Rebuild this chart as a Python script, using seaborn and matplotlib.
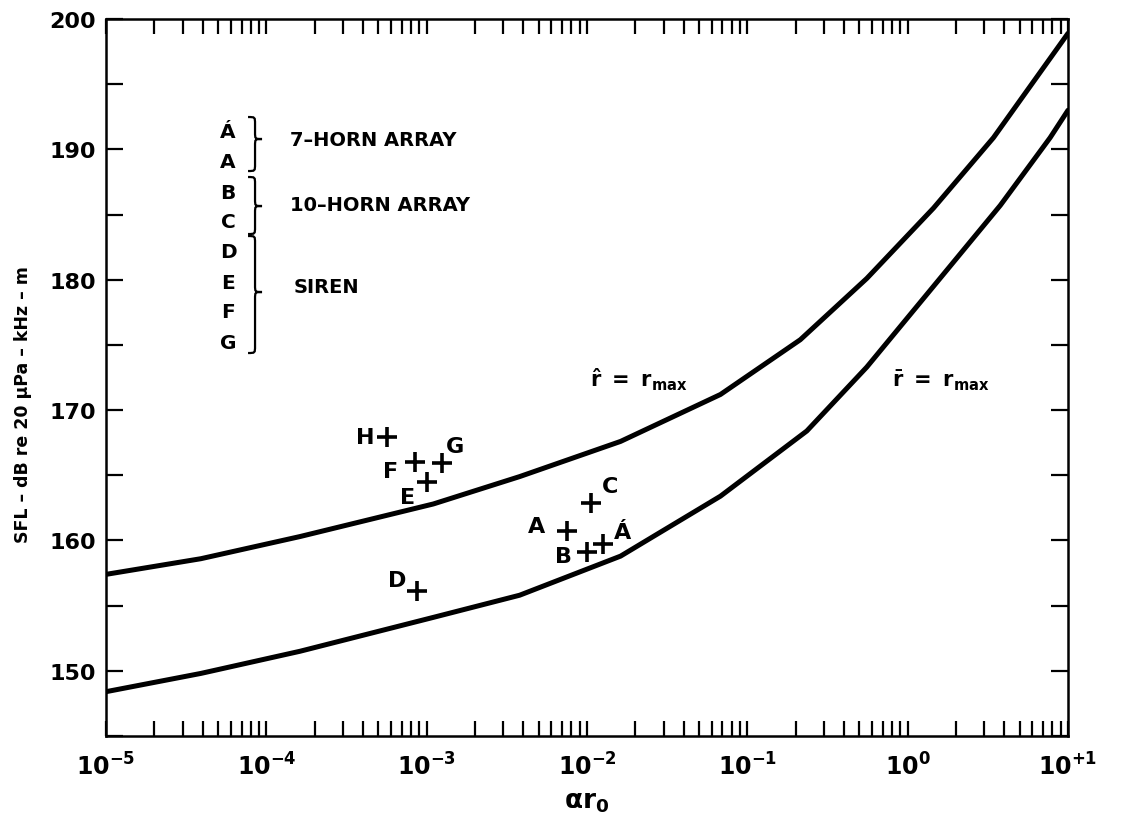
import matplotlib
matplotlib.use('Agg')
import matplotlib.pyplot as plt
from matplotlib.path import Path
from matplotlib.patches import PathPatch
from matplotlib.ticker import FixedLocator, FixedFormatter, NullLocator
import seaborn as sns

# curve  r^ = r_max
x_hat = [1.0e-5, 3.9e-5, 1.62e-4, 1.1e-3, 3.8e-3, 1.62e-2, 6.8e-2, 0.214, 0.556, 1.45, 3.43, 10.0]
y_hat = [157.4, 158.6, 160.3, 162.8, 164.9, 167.6, 171.2, 175.4, 180.1, 185.5, 190.9, 198.9]

# curve  r- = r_max
x_bar = [1.0e-5, 3.9e-5, 1.62e-4, 1.1e-3, 3.8e-3, 1.62e-2, 6.8e-2, 0.235, 0.556, 1.45, 3.78, 7.74, 10.0]
y_bar = [148.4, 149.8, 151.5, 154.1, 155.8, 158.8, 163.4, 168.4, 173.3, 179.5, 185.7, 190.9, 193.0]

# measured sources
pt_labels = ['H', 'F', 'G', 'E', 'D', 'C', 'A', 'B', 'Á']
pt_x = [5.66e-4, 8.47e-4, 1.25e-3, 1.0e-3, 8.7e-4, 1.06e-2, 7.5e-3, 1.0e-2, 1.26e-2]
pt_y = [167.9, 166.0, 165.95, 164.5, 156.1, 162.9, 160.7, 159.1, 159.7]
# label offsets (points)
pt_dx = [-16, -18, 9, -14, -14, 14, -22, -17, 14]
pt_dy = [0, -6, 12, -11, 8, 12, 4, -3, 9]

key_letters = ['Á', 'A', 'B', 'C', 'D', 'E', 'F', 'G']
group_names = ['7–HORN ARRAY', '10–HORN ARRAY', 'SIREN']

x_ticks = [1e-5, 1e-4, 1e-3, 1e-2, 1e-1, 1e0, 1e1]
x_ticklabels = ['$10^{-5}$', '$10^{-4}$', '$10^{-3}$', '$10^{-2}$', '$10^{-1}$', '$10^{0}$', '$10^{+1}$']
y_ticks = [145, 150, 155, 160, 165, 170, 175, 180, 185, 190, 195, 200]
y_ticklabels = ['', '150', '', '160', '', '170', '', '180', '', '190', '', '200']

sns.set_style('white')
plt.rcParams['font.family'] = ['DejaVu Sans']
plt.rcParams['font.weight'] = 'bold'
plt.rcParams['mathtext.fontset'] = 'dejavusans'
plt.rcParams['mathtext.default'] = 'bf'
plt.rcParams['text.color'] = 'black'
plt.rcParams['axes.labelcolor'] = 'black'
plt.rcParams['xtick.color'] = 'black'
plt.rcParams['ytick.color'] = 'black'

fig = plt.figure(figsize=(11.21, 8.28), dpi=100)
ax = fig.add_axes([0.0946, 0.1099, 0.8581, 0.8659])

sns.lineplot(x=x_hat, y=y_hat, ax=ax, color='black', linewidth=3.6,
             solid_joinstyle='round', solid_capstyle='round')
sns.lineplot(x=x_bar, y=y_bar, ax=ax, color='black', linewidth=3.6,
             solid_joinstyle='round', solid_capstyle='round')
sns.scatterplot(x=pt_x, y=pt_y, ax=ax, marker='+', s=210, color='black',
                linewidth=2.6, zorder=5)

for lab, x, y, dx, dy in zip(pt_labels, pt_x, pt_y, pt_dx, pt_dy):
    ax.annotate(lab, (x, y), xytext=(dx, dy), textcoords='offset points',
                ha='center', va='center', fontsize=16, fontweight='bold')

ax.set_xscale('log')
ax.set_xlim(1e-5, 1e1)
ax.set_ylim(145, 200)

ax.xaxis.set_major_locator(FixedLocator(x_ticks))
ax.xaxis.set_major_formatter(FixedFormatter(x_ticklabels))
ax.xaxis.set_minor_locator(FixedLocator(
    [m * 10.0 ** e for e in range(-5, 1) for m in range(2, 10)]))
ax.yaxis.set_major_locator(FixedLocator(y_ticks))
ax.yaxis.set_major_formatter(FixedFormatter(y_ticklabels))
ax.yaxis.set_minor_locator(NullLocator())

ax.tick_params(axis='x', which='both', direction='in', top=True, bottom=True,
               length=11, width=1.6, labelsize=17, pad=12)
ax.tick_params(axis='y', which='major', direction='in', left=True, right=True,
               length=12, width=1.6, labelsize=16, pad=7)
for s in ax.spines.values():
    s.set_linewidth(1.8)
    s.set_color('black')

ax.set_xlabel(r'$\alpha r_0$', fontsize=19, labelpad=6)
ax.set_ylabel('SFL – dB re 20 μPa – kHz – m', fontsize=12.5, fontweight='bold')
ax.yaxis.set_label_coords(-0.077, 0.463)

# curve labels
ax.text(1.05e-2, 171.85, r'$\hat{\mathbf{r}}\ =\ \mathbf{r_{max}}$', fontsize=15, ha='left', va='baseline')
ax.text(0.80, 171.85, r'$\bar{\mathbf{r}}\ =\ \mathbf{r_{max}}$', fontsize=15, ha='left', va='baseline')


# key in the upper left (pixel positions of the scan mapped to axes fraction)
def fx(px):
    return (px - 106) / 962.0


def fy(py):
    return (737 - py) / 717.0


def brace(x, top, bot, tip, w=7, d=7):
    verts = [(fx(x - w), fy(top)),
             (fx(x), fy(top)), (fx(x), fy(top)), (fx(x), fy(top + d)),
             (fx(x), fy(tip - d)),
             (fx(x), fy(tip)), (fx(x), fy(tip)), (fx(x + w), fy(tip)),
             (fx(x), fy(tip)), (fx(x), fy(tip)), (fx(x), fy(tip + d)),
             (fx(x), fy(bot - d)),
             (fx(x), fy(bot)), (fx(x), fy(bot)), (fx(x - w), fy(bot))]
    codes = [Path.MOVETO,
             Path.CURVE4, Path.CURVE4, Path.CURVE4,
             Path.LINETO,
             Path.CURVE4, Path.CURVE4, Path.CURVE4,
             Path.CURVE4, Path.CURVE4, Path.CURVE4,
             Path.LINETO,
             Path.CURVE4, Path.CURVE4, Path.CURVE4]
    ax.add_patch(PathPatch(Path(verts, codes), transform=ax.transAxes,
                           fill=False, lw=1.6, color='black'))


key_y = [132, 162, 193, 222, 252, 283, 312, 343]
for lab, py in zip(key_letters, key_y):
    ax.text(fx(228), fy(py), lab, transform=ax.transAxes, ha='center',
            va='center', fontsize=14.5, fontweight='bold')

brace(255, 118, 172, 140)
brace(255, 178, 235, 207)
brace(255, 237, 354, 293)

group_y = [140, 205, 287]
group_x = [290, 290, 294]
for name, px, py in zip(group_names, group_x, group_y):
    ax.text(fx(px), fy(py), name, transform=ax.transAxes, ha='left',
            va='center', fontsize=14, fontweight='bold')

fig.savefig('out.png', dpi=100)
